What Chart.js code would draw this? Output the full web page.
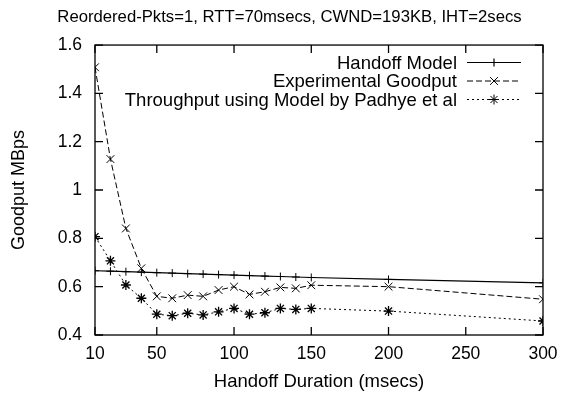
<!DOCTYPE html>
<html>
<head>
<meta charset="utf-8">
<script src="https://cdn.jsdelivr.net/npm/chart.js@4.4.1/dist/chart.umd.min.js"></script>
<style>
  html, body { margin: 0; padding: 0; background: #fff; }
  #wrap { width: 579px; height: 394px; }
</style>
</head>
<body>
<div id="wrap"><canvas id="myLineChart" width="579" height="394"></canvas></div>
<script>
// handoff durations (msecs)
const durations = [10, 20, 30, 40, 50, 60, 70, 80, 90, 100, 110, 120, 130, 140, 150, 200, 300];
const handoffModel = [0.666, 0.664, 0.662, 0.660, 0.658, 0.656, 0.654, 0.652, 0.650, 0.648, 0.646, 0.644, 0.642, 0.640, 0.638, 0.630, 0.616];
const experimental = [1.508, 1.128, 0.841, 0.676, 0.560, 0.552, 0.565, 0.560, 0.586, 0.600, 0.568, 0.579, 0.597, 0.593, 0.606, 0.600, 0.548];
const padhye = [0.807, 0.707, 0.607, 0.552, 0.486, 0.480, 0.490, 0.483, 0.496, 0.510, 0.486, 0.492, 0.510, 0.506, 0.510, 0.499, 0.458];
const xTicks = [10, 50, 100, 150, 200, 250, 300];
const yTicks = [0.4, 0.6, 0.8, 1.0, 1.2, 1.4, 1.6];
const seriesNames = ['Handoff Model', 'Experimental Goodput', 'Throughput using Model by Padhye et al'];

const FONT = "'Liberation Sans', Arial, Helvetica, sans-serif";

function toPoints(values) {
    return durations.map((d, i) => ({x: d, y: values[i]}));
}

// gnuplot-style frame with inward ticks on all four sides
const framePlugin = {
    id: 'frame',
    afterDatasetsDraw(chart) {
        const {ctx, chartArea: a, scales} = chart;
        const len = 8;
        ctx.save();
        ctx.strokeStyle = '#000';
        ctx.lineWidth = 1.3;
        ctx.strokeRect(a.left, a.top, a.right - a.left, a.bottom - a.top);
        ctx.beginPath();
        xTicks.forEach(v => {
            const px = scales.x.getPixelForValue(v);
            ctx.moveTo(px, a.bottom); ctx.lineTo(px, a.bottom - len);
            ctx.moveTo(px, a.top); ctx.lineTo(px, a.top + len);
        });
        yTicks.forEach(v => {
            const py = scales.y.getPixelForValue(v);
            ctx.moveTo(a.left, py); ctx.lineTo(a.left + len, py);
            ctx.moveTo(a.right, py); ctx.lineTo(a.right - len, py);
        });
        ctx.stroke();
        ctx.restore();
    }
};

// key in the upper right: text right aligned, then a sample of the line
const keyPlugin = {
    id: 'key',
    afterDatasetsDraw(chart) {
        const {ctx} = chart;
        const textRight = 457, x0 = 467, x1 = 521;
        const rows = [62.5, 81, 99.5];
        ctx.save();
        ctx.font = '18.5px ' + FONT;
        ctx.textAlign = 'right';
        ctx.textBaseline = 'middle';
        chart.data.datasets.forEach((ds, i) => {
            const y = rows[i];
            ctx.fillStyle = '#000';
            ctx.fillText(ds.label, textRight, y + 1);
            ctx.strokeStyle = ds.borderColor;
            ctx.lineWidth = ds.borderWidth;
            ctx.setLineDash(ds.borderDash || []);
            ctx.beginPath();
            ctx.moveTo(x0, y); ctx.lineTo(x1, y);
            ctx.stroke();
            ctx.setLineDash([]);
            Chart.helpers.drawPoint(ctx, {
                pointStyle: ds.pointStyle, radius: ds.pointRadius, borderWidth: 1
            }, (x0 + x1) / 2, y);
        });
        ctx.restore();
    }
};

const config = {
    type: 'line',
    data: {
        datasets: [{
            label: seriesNames[0],
            data: toPoints(handoffModel),
            borderColor: '#000',
            backgroundColor: '#000',
            borderWidth: 1.2,
            pointStyle: 'cross',
            pointRadius: 4,
            pointBorderWidth: 1
        }, {
            label: seriesNames[1],
            data: toPoints(experimental),
            borderColor: '#000',
            backgroundColor: '#000',
            borderWidth: 1,
            borderDash: [6, 3],
            pointStyle: 'crossRot',
            pointRadius: 5.5,
            pointBorderWidth: 1
        }, {
            label: seriesNames[2],
            data: toPoints(padhye),
            borderColor: '#000',
            backgroundColor: '#000',
            borderWidth: 1,
            borderDash: [2, 3],
            pointStyle: 'star',
            pointRadius: 5,
            pointBorderWidth: 1.3
        }]
    },
    options: {
        responsive: false,
        animation: false,
        layout: {padding: 0},
        plugins: {
            legend: {display: false},
            tooltip: {enabled: false},
            title: {
                display: true,
                text: 'Reordered-Pkts=1, RTT=70msecs, CWND=193KB, IHT=2secs',
                color: '#000',
                font: {family: FONT, size: 16.7, weight: 'normal', lineHeight: 1.2},
                padding: {top: 7, bottom: 18}
            }
        },
        scales: {
            x: {
                type: 'linear',
                min: 10,
                max: 300,
                grid: {display: false, drawTicks: false},
                border: {display: false},
                afterBuildTicks(s) { s.ticks = xTicks.map(v => ({value: v})); },
                afterFit(s) { s.height = 59; },
                ticks: {
                    color: '#000',
                    padding: 9,
                    maxRotation: 0,
                    font: {family: FONT, size: 17.5},
                    callback: v => String(v)
                },
                title: {
                    display: true,
                    text: 'Handoff Duration (msecs)',
                    color: '#000',
                    font: {family: FONT, size: 18.5, lineHeight: 1.2},
                    padding: {top: 0, bottom: 1}
                }
            },
            y: {
                type: 'linear',
                min: 0.4,
                max: 1.6,
                grid: {display: false, drawTicks: false},
                border: {display: false},
                afterBuildTicks(s) { s.ticks = yTicks.map(v => ({value: v})); },
                afterFit(s) { s.width = 95; },
                ticks: {
                    color: '#000',
                    padding: 13,
                    font: {family: FONT, size: 17.5},
                    callback: v => String(+v.toFixed(1))
                },
                title: {
                    display: true,
                    text: 'Goodput MBps',
                    color: '#000',
                    font: {family: FONT, size: 18, lineHeight: 1.2},
                    padding: {top: 8, bottom: 0}
                }
            },
            yRight: {
                type: 'linear',
                position: 'right',
                display: true,
                grid: {display: false},
                border: {display: false},
                ticks: {display: false},
                afterFit(s) { s.width = 36; }
            }
        }
    },
    plugins: [framePlugin, keyPlugin]
};

new Chart(document.querySelector('#myLineChart'), config);
</script>
</body>
</html>
